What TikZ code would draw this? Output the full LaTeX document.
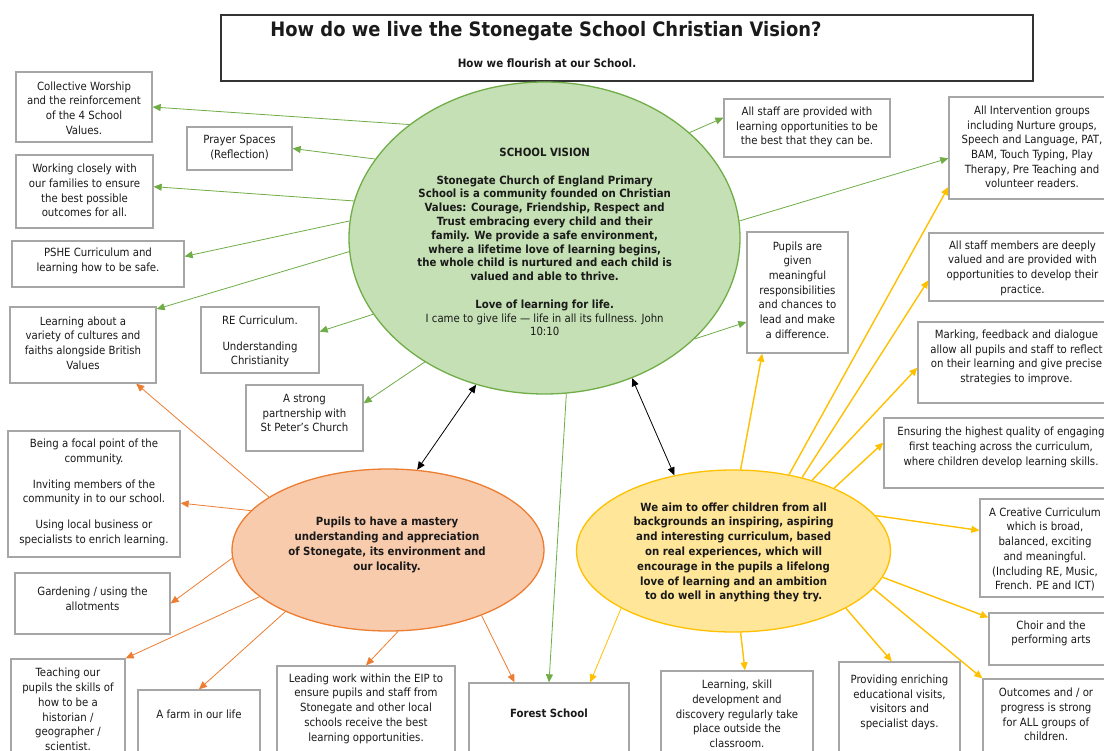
\documentclass[tikz,border=0pt]{standalone}
\usepackage{fontspec}
\setmainfont{DejaVu Sans Condensed}
\usetikzlibrary{shapes.geometric,arrows.meta}
\definecolor{gline}{HTML}{70AD47}
\definecolor{gfill}{HTML}{C5E0B4}
\definecolor{oline}{HTML}{ED7D31}
\definecolor{ofill}{HTML}{F8CBAD}
\definecolor{yline}{HTML}{FFC000}
\definecolor{yfill}{HTML}{FFE699}
\definecolor{boxline}{HTML}{A6A6A6}
\definecolor{ink}{HTML}{1A1A1A}
\newcommand{\mybox}[5]{\node[boxst, minimum width={(#4)-(#2)}, minimum height={(#5)-(#3)}] (#1) at ({((#2)+(#4))/2},{((#3)+(#5))/2}) {};}
\tikzset{
  boxst/.style={draw=boxline, line width=1.3pt, fill=white, inner sep=0pt, rectangle},
  txt/.style={align=center, inner sep=0pt, text=ink, font=\fontsize{11.3}{14.7}\selectfont},
  btxt/.style={align=center, inner sep=0pt, text=ink, font=\fontsize{11.3}{14.8}\selectfont\bfseries},
  tipst/.style={-{Triangle[length=8pt,width=7pt]}},
  garr/.style={tipst, draw=gline, line width=0.8pt},
  oarr/.style={tipst, draw=oline, line width=0.8pt},
  yarr/.style={tipst, draw=yline, line width=1.4pt},
  yarrthin/.style={tipst, draw=yline, line width=0.8pt},
  karr/.style={{Triangle[length=8pt,width=7pt]}-{Triangle[length=8pt,width=7pt]}, draw=black, line width=0.8pt},
}
\begin{document}
\begin{tikzpicture}[x=1pt,y=-1pt]
\useasboundingbox (0,0) rectangle (1104,751);
\fill[white] (0,0) rectangle (1104,751);
\clip (0,0) rectangle (1104,751);

% title
\node[draw=black!80, line width=1.4pt, minimum width=812, minimum height=66, inner sep=0pt] (tbox) at (627,48) {};
\node[btxt, font=\fontsize{19.9}{23}\selectfont\bfseries] (title) at (546,31) {How do we live the Stonegate School Christian Vision?};
\node[btxt, font=\fontsize{11.5}{13}\selectfont\bfseries] (subtitle) at (547,63) {How we flourish at our School.};

% ellipses
\node[ellipse, draw=gline, fill=gfill, line width=1.3pt, minimum width=391, minimum height=312, inner sep=0pt] (vis) at (544.5,238) {};
\node[ellipse, draw=oline, fill=ofill, line width=1.3pt, minimum width=312, minimum height=162, inner sep=0pt] (orn) at (388,550) {};
\node[ellipse, draw=yline, fill=yfill, line width=1.3pt, minimum width=314, minimum height=162, inner sep=0pt] (yel) at (733.5,551) {};

\node[align=center, inner sep=0pt, text=ink, font=\fontsize{11.3}{13.8}\selectfont] (vist) at (544.7,242) {\textbf{SCHOOL VISION}\\[13.8pt]
\textbf{Stonegate Church of England Primary}\\
\textbf{School is a community founded on Christian}\\
\textbf{Values: Courage, Friendship, Respect and}\\
\textbf{Trust embracing every child and their}\\
\textbf{family. We provide a safe environment,}\\
\textbf{where a lifetime love of learning begins,}\\
\textbf{the whole child is nurtured and each child is}\\
\textbf{valued and able to thrive.}\\[13.8pt]
\textbf{Love of learning for life.}\\
I came to give life — life in all its fullness. John\\
10:10};
\node[btxt, font=\fontsize{11.3}{15}\selectfont\bfseries] (ornt) at (387,544.5) {Pupils to have a mastery\\understanding and appreciation\\of Stonegate, its environment and\\our locality.};
\node[btxt] (yelt) at (733.6,552.5) {We aim to offer children from all\\backgrounds an inspiring, aspiring\\and interesting curriculum, based\\on real experiences, which will\\encourage in the pupils a lifelong\\love of learning and an ambition\\to do well in anything they try.};

% boxes
\mybox{cw}{16}{72}{152}{142}
\mybox{pr}{187}{127}{292}{170}
\mybox{wc}{16}{155}{153}{228}
\mybox{ps}{12}{241}{184}{287}
\mybox{lv}{10}{307}{156}{383}
\mybox{re}{201}{307}{319}{373}
\mybox{sp}{246}{385}{363}{451}
\mybox{fp}{8}{431}{180}{557}
\mybox{gd}{15}{573}{170}{634}
\mybox{tp}{11}{659}{125}{770}
\mybox{fm}{138}{690}{260}{770}
\mybox{ep}{277}{666}{455}{770}
\mybox{fs}{469}{683}{629}{770}
\mybox{ls}{661}{671}{813}{770}
\mybox{pv}{839}{662}{960}{770}
\mybox{oc}{983}{679}{1110}{770}
\mybox{ch}{989}{613}{1113}{665}
\mybox{cr}{980}{499}{1110}{597}
\mybox{en}{884}{418}{1118}{488}
\mybox{mk}{918}{322}{1115}{403}
\mybox{am}{929}{233}{1116}{301}
\mybox{ig}{949}{97}{1115}{199}
\mybox{as}{724}{99}{890}{157}
\mybox{pg}{747}{232}{848}{353}

% box texts
\node[txt] (cwt) at (84,108) {Collective Worship\\and the reinforcement\\of the 4 School\\Values.};
\node[txt] (prt) at (239.5,147.5) {Prayer Spaces\\(Reflection)};
\node[txt] (wct) at (84.5,190.5) {Working closely with\\our families to ensure\\the best possible\\outcomes for all.};
\node[txt] (pst) at (98,261) {PSHE Curriculum and\\learning how to be safe.};
\node[txt] (lvt) at (83,343) {Learning about a\\variety of cultures and\\faiths alongside British\\Values};
\node[txt] (ret) at (260,341.5) {RE Curriculum.\\[11pt]Understanding\\Christianity};
\node[txt] (spt) at (304.5,413) {A strong\\partnership with\\St Peter’s Church};
\node[txt] (fpt) at (94,492.5) {Being a focal point of the\\community.\\[11pt]Inviting members of the\\community in to our school.\\[11pt]Using local business or\\specialists to enrich learning.};
\node[txt] (gdt) at (92.5,598.5) {Gardening / using the\\allotments};
\node[txt] (tpt) at (68,709.5) {Teaching our\\pupils the skills of\\how to be a\\historian /\\geographer /\\scientist.};
\node[txt] (fmt) at (199,714) {A farm in our life};
\node[txt] (ept) at (366,708.5) {Leading work within the EIP to\\ensure pupils and staff from\\Stonegate and other local\\schools receive the best\\learning opportunities.};
\node[btxt] (fst) at (549,713) {Forest School};
\node[txt] (lst) at (737,714) {Learning, skill\\development and\\discovery regularly take\\place outside the\\classroom.};
\node[txt] (pvt) at (899.5,702.5) {Providing enriching\\educational visits,\\visitors and\\specialist days.};
\node[txt] (oct) at (1046,714.5) {Outcomes and / or\\progress is strong\\for ALL groups of\\children.};
\node[txt] (cht) at (1051,633.5) {Choir and the\\performing arts};
\node[txt] (crt) at (1045,549.5) {A Creative Curriculum\\which is broad,\\balanced, exciting\\and meaningful.\\(Including RE, Music,\\French. PE and ICT)};
\node[txt] (ent) at (1001,447.5) {Ensuring the highest quality of engaging\\first teaching across the curriculum,\\where children develop learning skills.};
\node[txt] (mkt) at (1016.5,357.5) {Marking, feedback and dialogue\\allow all pupils and staff to reflect\\on their learning and give precise\\strategies to improve.};
\node[txt] (amt) at (1022.5,268) {All staff members are deeply\\valued and are provided with\\opportunities to develop their\\practice.};
\node[txt] (igt) at (1032,147) {All Intervention groups\\including Nurture groups,\\Speech and Language, PAT,\\BAM, Touch Typing, Play\\Therapy, Pre Teaching and\\volunteer readers.};
\node[txt] (ast) at (807,127) {All staff are provided with\\learning opportunities to be\\the best that they can be.};
\node[txt] (pgt) at (797.5,290) {Pupils are\\given\\meaningful\\responsibilities\\and chances to\\lead and make\\a difference.};

% green connectors
\draw[garr] (vis.140) -- (cw.east);
\draw[garr] (vis.155) -- (pr.east);
\draw[garr] (vis.169) -- (wc.4);
\draw[garr] (vis.175) -- (ps.5);
\draw[garr] (vis.184) -- (lv.26);
\draw[garr] (vis.204) -- (re.8);
\draw[garr] (vis.226) -- (sp.14);
\draw[garr] (vis.36) -- (as.173);
\draw[garr] (vis.5) -- (ig.187);
\draw[garr] (vis.326) -- (pg.210);
\draw[garr] (vis.278) -- (fs.north);

% black double arrows
\draw[karr] (vis.245) -- (orn.70);
\draw[karr] (vis.302) -- (yel.128);

% orange connectors
\draw[oarr] (orn.156) -- (lv.-36);
\draw[oarr] (orn.164) -- (fp.-6);
\draw[oarr] (orn.183) -- (gd.east);
\draw[oarr] (orn.200) -- (tp.north east);
\draw[oarr] (orn.211) -- (fm.north);
\draw[oarr] (orn.277) -- (ep.north);
\draw[oarr] (orn.325) -- (fs.128);

% yellow connectors
\draw[yarrthin] (yel.207) -- (fs.47);
\draw[yarr] (yel.275) -- (ls.81);
\draw[yarr] (yel.333) -- (pv.98);
\draw[yarr] (yel.345) -- (oc.north west);
\draw[yarr] (yel.350) -- (ch.161);
\draw[yarr] (yel.14) -- (cr.165);
\draw[yarr] (yel.32) -- (en.175);
\draw[yarr] (yel.42) -- (mk.183);
\draw[yarr] (yel.47) -- (am.188);
\draw[yarr] (yel.54) -- (ig.205);
\draw[yarr] (yel.85) -- (pg.240);
\end{tikzpicture}
\end{document}
